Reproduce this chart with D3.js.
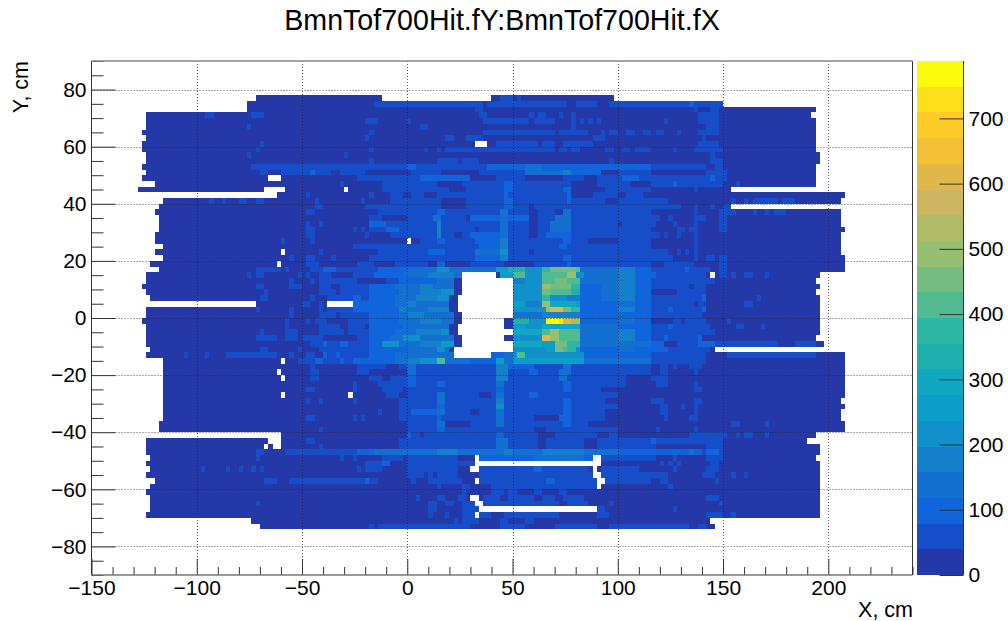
<!DOCTYPE html>
<html><head><meta charset="utf-8">
<script src="https://cdn.jsdelivr.net/npm/d3@7"></script>
<style>html,body{margin:0;padding:0;background:#fff}svg{display:block}text{font-family:"Liberation Sans",Arial,sans-serif;fill:#000}</style>
</head><body><div id="c"></div><script>
const titleText="BmnTof700Hit.fY:BmnTof700Hit.fX", xLabel="X, cm", yLabel="Y, cm";
const xMajor=[-150,-100,-50,0,50,100,150,200];
const yMajor=[-80,-60,-40,-20,0,20,40,60,80];
const zTicks=[0,100,200,300,400,500,600,700];
const zMax=788, binSize=2;
const palette=["#2538a8","#154ec8","#1064dc","#1470d0","#1480cc","#1190cc","#0b9ec8","#10a8c0","#20b0ac","#2cb8a5","#50bb90","#75bc80","#97bf72","#b0bb68","#cdb460","#e0b84a","#f3c035","#ffcb28","#fde01a","#fbfb0a"];
const rowTops=[78,76,74,72,70,68,66,64,62,60,58,56,54,52,50,48,46,44,42,40,38,36,34,32,30,28,26,24,22,20,18,16,14,12,10,8,6,4,2,0,-2,-4,-6,-8,-10,-12,-14,-16,-18,-20,-22,-24,-26,-28,-30,-32,-34,-36,-38,-40,-42,-44,-46,-48,-50,-52,-54,-56,-58,-60,-62,-64,-66,-68,-70,-72];
const rowStarts=[-72,-76,-76,-124,-124,-124,-126,-124,-126,-126,-124,-124,-126,-124,-126,-120,-128,-62,-116,-118,-120,-118,-118,-118,-120,-120,-116,-120,-116,-122,-118,-124,-124,-126,-124,-122,-72,-124,-124,-126,-124,-124,-124,-124,-122,-124,-116,-116,-116,-116,-116,-116,-116,-116,-116,-116,-116,-118,-118,-60,-124,-124,-124,-122,-124,-122,-124,-120,-122,-124,-122,-122,-122,-124,-74,-70];
const rowEnds=[98,150,194,192,194,194,194,194,194,194,196,196,194,194,194,194,154,208,206,154,206,206,206,208,206,206,206,206,208,208,208,196,194,196,194,196,196,196,196,196,196,196,194,198,146,208,208,208,208,208,208,208,208,206,208,206,206,208,208,194,190,196,196,194,196,196,196,196,196,196,196,196,196,196,144,146];
// each row: x where a band starts, band index, x, band index ... (band 0 before the first x)
const rowRuns=[
[44,1,50,0,52,1,54,0],
[-16,1,36,0,38,1,76,0,80,1,90,0,96,1,134,2,136,1],
[32,1,36,0,136,1,138,0,144,1,148,0],
[-96,1,-92,0,-74,1,-68,0,34,1,38,0,58,1,60,0,62,1,66,0,72,1,74,0,78,1,80,0,138,1,148,0],
[-20,1,-14,0,0,1,2,0,36,1,58,0,60,1,70,0,78,1,80,0,82,1,84,0,86,1,88,0,90,1,92,0,122,1,124,0,138,1,148,0],
[-76,1,-74,0,6,1,10,0,78,1,80,0,142,1,148,0],
[-18,1,-16,0,36,1,70,0,72,1,86,0,92,1,94,0,96,1,100,0,104,1,108,0,112,1,116,0,118,1,122,0,128,1,130,0,138,1,148,0],
[-20,1,-18,0,18,1,22,0,28,1,36,0,88,1,94,0,140,1,142,0],
[-70,1,-68,0,42,1,62,0,64,1,70,0,74,1,88,0,138,1,148,0],
[-72,1,-70,0,-18,1,-16,0,8,1,10,0,14,1,16,0,18,1,70,0,72,1,76,0,78,1,82,0,94,1,98,0,102,1,106,0,108,1,116,0,126,1,128,0,136,1,150,0],
[-76,1,-74,0,-30,1,-28,0,144,1,146,0],
[-18,1,-16,0,14,1,24,0,26,1,34,0,96,1,98,0,144,1,150,0],
[-74,1,0,2,4,1,38,2,56,3,64,2,116,1,142,0,146,1,150,0],
[-70,1,-66,0,-60,1,-46,2,-44,1,-36,0,-32,1,-20,0,2,1,16,0,34,1,56,3,74,4,78,2,92,0,100,1,116,0,142,1,152,0],
[-24,1,6,2,30,0,42,1,56,0,74,1,84,0,90,1,102,2,110,1,144,2,146,1,152,0],
[-32,1,-30,0,-12,1,14,0,26,1,46,2,50,1,78,0,90,1,106,0,116,1,126,2,128,1,150,0,156,1,158,0],
[-12,1,20,0,28,1,46,2,50,1,74,2,78,0,94,1,116,0,136,1,138,0],
[-48,1,-46,0,-18,1,-16,0,-8,1,-2,0,2,1,8,0,14,1,46,2,48,1,76,2,78,0,88,1,100,0,104,1,112,0],
[-94,1,-92,0,-88,1,-86,0,-80,1,-76,0,-72,1,-68,0,-44,1,-42,0,-22,1,-20,0,-8,1,16,0,28,1,46,2,50,1,76,2,78,1,94,0,100,1,124,0,154,1,156,0,160,1,162,0,164,1,176,0,178,1,184,0],
[-44,1,-40,0,-20,1,16,0,28,1,46,2,50,1,58,0,60,1,130,0,136,1,138,0,144,1,146,0,150,1],
[-48,1,-44,0,-14,1,14,2,18,1,44,3,48,1,58,0,62,1,70,0,74,3,78,1,116,0,136,1,138,0,148,1,156,0,164,1,166,0,170,1,172,0,174,1,180,0],
[-18,1,-12,0,0,1,12,3,16,1,28,0,30,2,44,3,48,2,58,0,62,1,70,3,78,1,120,0,124,1,126,0,136,1,142,0,148,1,152,0],
[-48,1,-46,0,-42,1,-40,0,-18,2,-10,1,14,4,16,1,44,3,48,1,58,0,62,1,68,3,78,1,100,0,102,1,118,0,126,1,128,0,136,1,138,0,148,1,152,0],
[-48,1,-44,0,-26,1,-24,0,-22,1,-20,0,-18,1,-10,2,-4,1,14,4,16,1,32,0,34,1,44,3,48,1,58,0,62,1,68,3,78,1,116,0,128,1,132,0,134,1,138,0,148,1,152,0],
[-48,1,-44,0,-20,1,-18,0,-8,1,14,4,16,1,22,0,26,1,30,2,44,3,48,1,58,0,62,1,66,2,78,1,120,0,122,1,124,0,128,1,130,0,136,1,138,0],
[-60,1,-58,0,-46,1,-44,0,6,1,14,2,18,1,32,2,44,4,48,1,74,2,78,1,86,0,100,1,116,0,136,1,138,0],
[-26,1,34,2,44,4,48,1,72,2,76,1,116,0,136,1,138,0],
[-42,1,-40,0,-14,1,10,2,18,1,32,3,44,5,48,1,58,0,60,1,124,0,128,1,130,0,132,1,134,0,136,1,138,0],
[-56,1,-54,0,-48,1,-44,0,-36,1,-34,0,-18,1,32,2,44,4,48,1,74,2,78,1,126,0,136,1,138,0,142,1,146,0,148,1,152,0],
[-48,1,-42,0,-24,1,-16,0,-6,1,10,0,14,2,18,0,30,1,46,0,60,1,76,2,78,1,116,0,122,1,136,0,148,1,152,0],
[-72,1,-60,0,-58,1,-56,0,-46,1,-40,2,-34,1,-14,2,0,3,14,5,20,3,42,6,48,8,56,5,64,9,68,11,80,10,82,3,100,4,108,2,116,1,132,2,134,1,144,0,148,1,152,0],
[-76,1,-74,0,-72,1,-68,0,-52,1,-50,0,-48,1,-46,0,-42,1,-36,0,-26,1,-16,2,-2,3,10,4,22,3,42,0,44,6,50,10,56,5,64,10,76,12,80,5,84,3,100,4,108,2,118,1,142,0,148,1,152,0,154,1,156,0,160,1,164,0,170,1,172,0],
[-56,1,-54,0,-46,1,-44,0,-42,1,-24,0,-10,1,-4,2,14,3,22,0,50,4,56,5,64,10,70,11,76,10,82,3,100,4,108,2,116,1,146,0],
[-72,1,-68,0,-56,1,-50,0,-42,1,-36,0,-32,1,-18,2,-6,3,6,4,12,3,22,0,50,5,64,12,68,11,78,9,82,2,92,3,100,4,108,2,116,1,134,0,136,1,142,0],
[-68,1,-66,0,-42,1,-34,0,-32,1,-18,2,-4,3,6,4,16,5,22,0,50,5,64,11,68,10,78,8,82,2,92,3,100,4,108,2,116,0,128,1,142,0],
[-70,1,-66,0,-46,1,-44,0,-38,1,-26,2,-22,1,-18,2,-6,3,4,4,14,5,20,0,50,5,64,9,68,5,76,4,82,2,92,3,100,4,108,2,116,1,140,2,142,0,166,1,168,0],
[-50,1,-46,0,-42,1,-40,0,-26,2,-6,3,0,4,4,3,20,0,50,6,56,4,64,12,68,7,80,6,82,2,100,3,108,2,116,1,136,0,138,1,142,0,160,1,164,0],
[-72,1,-70,0,-56,1,-54,0,-42,1,-40,0,-38,1,-26,2,-4,4,0,3,10,4,20,0,50,5,66,12,68,15,74,11,78,9,82,2,100,4,108,2,116,1,124,2,126,1,140,2,142,0],
[-56,1,-54,0,-42,1,-34,0,-32,1,-18,2,-4,3,0,4,8,3,22,0,50,3,64,4,82,2,116,1,140,0],
[-58,1,-56,0,-48,1,-46,0,-44,1,-38,0,-28,1,-18,2,-4,3,6,4,16,3,22,0,50,8,58,5,66,19,72,18,74,15,78,13,82,2,100,3,108,2,116,0,126,1,130,0,132,1,142,0,152,1,154,0],
[-58,1,-56,0,-42,1,-32,0,-28,1,-20,0,-18,2,-2,3,20,0,50,6,56,5,64,7,82,3,100,2,116,1,124,2,126,1,144,0,156,1,160,0,168,1,170,0],
[-70,1,-68,0,-58,1,-52,0,-42,1,-30,0,-28,1,-18,2,-6,3,4,4,16,5,20,0,50,7,64,10,68,12,72,10,82,3,100,4,108,2,116,1,146,0],
[-72,1,-62,0,-58,1,-52,0,-50,1,-40,0,-24,1,-18,2,-8,3,-2,5,6,3,22,0,50,5,64,15,68,12,72,10,82,3,100,4,108,2,116,1,122,2,124,1,138,2,140,0],
[-46,1,-40,2,-38,1,-32,2,-28,1,-18,2,-12,5,-4,3,6,4,16,6,22,0,50,7,64,6,70,11,76,9,82,3,116,2,122,0,128,1,138,2,146,1,176,0,184,1,194,0],
[-70,1,-66,0,-52,1,-50,0,-42,1,-18,2,0,3,14,5,18,3,20,0,50,5,66,6,70,11,74,10,76,9,80,5,82,2,100,3,108,2,124,1,144,0],
[-106,1,-104,0,-96,1,-94,0,-86,1,-62,0,-56,1,-54,0,-48,1,-44,0,-40,2,-38,1,-34,2,-32,1,-18,2,-6,3,40,2,46,3,50,5,52,10,56,5,84,2,116,1,142,0,152,1,194,0],
[-52,1,-44,2,-40,1,-32,2,-30,1,-26,2,-18,2,-6,3,0,4,6,5,14,10,18,3,30,2,42,6,46,3,50,6,84,3,116,1,142,0],
[-46,1,-44,0,-24,1,-10,0,-4,1,0,3,4,1,42,4,48,2,60,1,74,3,78,1,116,0,120,1,124,0,126,1,128,0,134,1,140,0],
[-46,1,-42,0,-24,1,-18,0,0,3,4,1,42,4,48,1,58,2,62,1,72,3,78,1,116,0,120,1,124,0,136,1,138,0],
[-46,1,-42,0,-18,1,-12,0,-8,1,0,2,4,1,42,4,48,1,72,3,76,1,104,0,116,1,124,0],
[-26,1,-24,0,-14,1,0,2,4,1,14,2,18,1,42,3,46,1,74,2,78,1,104,0,118,1,124,0,136,1,138,0],
[-48,1,-44,0,-26,1,-24,0,-12,1,-2,0,0,1,42,2,46,1,74,2,78,1,92,0,136,1,140,0],
[-10,1,-4,0,0,1,14,3,18,1,34,0,40,1,42,3,46,1,58,2,62,1,100,0],
[-48,1,-46,0,-42,1,-40,0,-26,1,-24,0,-4,1,14,3,18,1,42,4,46,1,74,2,78,1,94,0,116,1,122,0,136,1,140,0],
[-4,1,14,2,18,1,42,5,46,1,74,2,78,1,100,0,120,1,124,0,130,1,132,0,136,1,138,0],
[-14,1,-12,0,-4,1,2,2,14,3,18,1,30,0,34,1,42,3,46,1,74,2,78,1,94,0,120,1,124,0,136,1,138,0],
[-48,1,-44,0,-26,1,-24,0,-22,1,-20,0,-4,1,14,2,16,1,42,3,46,1,60,0,72,2,78,1,94,0,122,1,124,0,134,1,138,0],
[0,1,14,3,18,0,30,1,42,3,46,1,74,2,78,1,86,0,154,1,158,0,170,1,172,0],
[-42,1,-40,0,0,1,14,2,18,1,60,0,66,1,100,0,118,1,120,0,136,1,138,0],
[0,2,2,1,6,0,8,1,42,2,46,1,62,0,70,1,90,0,96,1,100,0,134,1,152,0,156,1,158,0,160,1,164,0,170,1,172,0],
[-48,1,-44,0,-4,1,42,3,48,1,62,0,66,1,84,0,90,1,116,2,118,1,150,0],
[-42,1,-40,0,-4,1,42,3,48,1,62,0,66,1,84,0,90,1,118,0,142,1,150,0],
[-72,1,-68,0,-58,1,-24,2,-16,3,14,4,24,3,46,4,50,3,64,4,84,3,100,2,134,3,136,2,140,1,142,2,148,1,150,0],
[-72,1,-70,0,-32,1,-30,0,-26,1,-24,0,-12,1,-2,0,0,1,24,0,34,2,60,3,84,2,92,1,118,0,126,1,128,0,142,1,150,0],
[-20,1,-12,2,-8,0,0,1,92,0,120,1,122,0,124,1,126,0,128,1,130,0,144,1,148,0],
[-98,1,-96,0,-86,1,-84,0,-80,1,-78,0,-74,1,-72,0,-70,1,-68,0,-24,1,-22,0,-20,1,-12,0,0,1,24,0,34,1,60,2,64,1,86,0,92,1,110,0,126,1,128,0,142,1,148,0],
[0,1,8,0,10,1,12,0,14,1,24,0,34,1,88,0,92,1,124,0,140,1,146,0,154,1,156,0,160,1,162,0],
[-68,1,-62,0,-56,1,-20,2,-18,1,-14,0,2,1,4,0,10,1,26,0,34,1,66,2,70,1,116,0,120,1,124,0,146,1,148,0],
[14,1,16,0,26,1,30,0,40,1,90,0,124,1,126,0],
[26,1,28,0,40,1,46,0,48,1,52,0,60,1,64,0,72,1,76,0],
[4,1,6,0,14,1,18,0,24,1,28,0,36,1,44,0,48,1,60,0,64,1,70,0,74,1,84,0,142,1,148,0],
[-72,1,-70,0,10,1,14,0,18,1,22,0,26,1,32,0,36,1,72,0,76,1,86,0,96,1,98,0,148,1,150,0],
[10,1,14,0,26,1,34,0,90,1,94,0,126,1,128,0],
[10,1,12,0,18,1,20,0,26,1,32,0,34,1,40,0,46,1,72,0,90,1,96,0,142,1,150,0,154,1,156,0],
[22,1,24,0,26,1,34,0,44,1,48,0,56,1,60,0],
[-18,1,-16,0,-14,1,30,0,44,1,56,0,70,1,90,0,96,1,134,0,138,1,142,0]
];
// empty bins: row top, x from, x to
const emptyBins=[[78,-12,40],[62,32,38],[50,-66,-60],[46,-68,-58],[46,-30,-28],[28,0,2],[24,-60,-58],[20,-62,-60],[16,26,42],[16,144,146],[14,26,50],[12,26,50],[10,26,50],[8,24,50],[6,-38,-26],[6,24,50],[4,24,50],[2,26,50],[0,26,46],[-2,24,46],[-4,24,50],[-6,26,46],[-8,26,50],[-10,22,50],[-12,22,40],[-14,-60,-58],[-18,-62,-60],[-20,-60,-58],[-26,-60,-58],[-26,-28,-26],[-42,-66,-60],[-44,-68,-66],[-44,-64,-60],[-48,32,34],[-48,88,92],[-50,32,92],[-52,30,34],[-52,88,90],[-54,88,92],[-56,32,34],[-56,90,94],[-58,90,92],[-62,30,34],[-64,32,36],[-66,34,90],[-68,32,34]];

const W=1008,H=621,L=91.5,R=912.5,T=61,B=575;
const x=d3.scaleLinear().domain([-150,240]).range([L,R]);
const y=d3.scaleLinear().domain([-90,90]).range([B,T]);
const z=d3.scaleLinear().domain([0,zMax]).range([B,T]);
const color=d3.scaleQuantize().domain([0,zMax]).range(palette);
const bandWidth=zMax/palette.length;

const cells=[];
rowTops.forEach((t,i)=>{
  const runs=rowRuns[i];
  for(let cx=rowStarts[i];cx<rowEnds[i];cx+=binSize){
    if(emptyBins.some(g=>g[0]===t&&cx>=g[1]&&cx<g[2])) continue;
    let band=0;
    for(let k=0;k<runs.length;k+=2) if(cx>=runs[k]) band=runs[k+1];
    cells.push({x:cx,y:t,v:(band+.5)*bandWidth});
  }
});

const svg=d3.select("#c").append("svg").attr("width",W).attr("height",H);
svg.append("g").attr("shape-rendering","crispEdges").selectAll("rect").data(cells).join("rect")
  .attr("x",d=>Math.round(x(d.x))).attr("y",d=>Math.round(y(d.y)))
  .attr("width",d=>Math.round(x(d.x+binSize))-Math.round(x(d.x)))
  .attr("height",d=>Math.round(y(d.y-binSize))-Math.round(y(d.y)))
  .attr("fill",d=>color(d.v));

// grid
const grid=svg.append("g").attr("stroke","#222").attr("stroke-width",1).attr("stroke-dasharray","1,2").attr("opacity",.75);
grid.selectAll(".gx").data(xMajor.slice(1)).join("line").attr("x1",d=>Math.round(x(d))+.5).attr("x2",d=>Math.round(x(d))+.5).attr("y1",T).attr("y2",B);
grid.selectAll(".gy").data(yMajor).join("line").attr("y1",d=>Math.round(y(d))+.5).attr("y2",d=>Math.round(y(d))+.5).attr("x1",L).attr("x2",R);

// palette
const bw=zMax/palette.length;
svg.append("g").attr("shape-rendering","crispEdges").selectAll("rect").data(palette).join("rect")
  .attr("x",917).attr("width",46)
  .attr("y",(d,i)=>Math.round(z((i+1)*bw))).attr("height",(d,i)=>Math.round(z(i*bw))-Math.round(z((i+1)*bw)))
  .attr("fill",d=>d);

function style(g,size=21){g.select(".domain").remove();g.selectAll("text").attr("font-size",size).attr("font-family","Liberation Sans");g.selectAll("line").attr("stroke","#333");}
const fmt=d=>d<0?"\u2212"+Math.abs(d):""+d;
// minor ticks
const xMinor=d3.range(-150,241,10).filter(v=>!xMajor.includes(v));
const yMinor=d3.range(-90,91,5).filter(v=>!yMajor.includes(v));
const gxm=svg.append("g").attr("transform",`translate(0,${B})`).call(d3.axisTop(x).tickValues(xMinor).tickSize(8).tickFormat(""));style(gxm);
const gxM=svg.append("g").attr("transform",`translate(0,${B})`).call(d3.axisTop(x).tickValues(xMajor).tickSize(16).tickFormat(""));style(gxM);
const gxl=svg.append("g").attr("transform",`translate(0,${B})`).call(d3.axisBottom(x).tickValues(xMajor).tickSize(0).tickPadding(5).tickFormat(fmt));style(gxl);
const gym=svg.append("g").attr("transform",`translate(${L},0)`).call(d3.axisRight(y).tickValues(yMinor).tickSize(12).tickFormat(""));style(gym);
const gyM=svg.append("g").attr("transform",`translate(${L},0)`).call(d3.axisRight(y).tickValues(yMajor).tickSize(24).tickFormat(""));style(gyM);
const gyl=svg.append("g").attr("transform",`translate(${L},0)`).call(d3.axisLeft(y).tickValues(yMajor).tickSize(0).tickPadding(5).tickFormat(fmt));style(gyl);
const gz=svg.append("g").attr("transform",`translate(963.5,0)`).call(d3.axisLeft(z).tickValues(zTicks).tickSize(24).tickFormat(""));style(gz);
const gzl=svg.append("g").attr("transform",`translate(963.5,0)`).call(d3.axisRight(z).tickValues(zTicks).tickSize(0).tickPadding(5).tickFormat(d=>d));style(gzl);

// frame
const fr=svg.append("g").attr("fill","none").attr("stroke-width",1);
fr.append("line").attr("x1",L).attr("x2",L).attr("y1",T).attr("y2",B).attr("stroke","#333");
fr.append("line").attr("x1",R).attr("x2",R).attr("y1",T).attr("y2",B).attr("stroke","#333");
fr.append("line").attr("x1",L).attr("x2",R).attr("y1",T).attr("y2",T).attr("stroke","#888").attr("stroke-width",1.6);
fr.append("line").attr("x1",L).attr("x2",R).attr("y1",B).attr("y2",B).attr("stroke","#777").attr("stroke-width",1.6);
fr.append("line").attr("x1",963.5).attr("x2",963.5).attr("y1",T).attr("y2",B).attr("stroke","#333");

svg.append("text").attr("x",502).attr("y",30).attr("text-anchor","middle").attr("font-size",28.6).text(titleText);
svg.append("text").attr("x",913).attr("y",617).attr("text-anchor","end").attr("font-size",21.5).text(xLabel);
svg.append("text").attr("transform","translate(28,61) rotate(-90)").attr("text-anchor","end").attr("font-size",21.5).text(yLabel);
</script></body></html>
